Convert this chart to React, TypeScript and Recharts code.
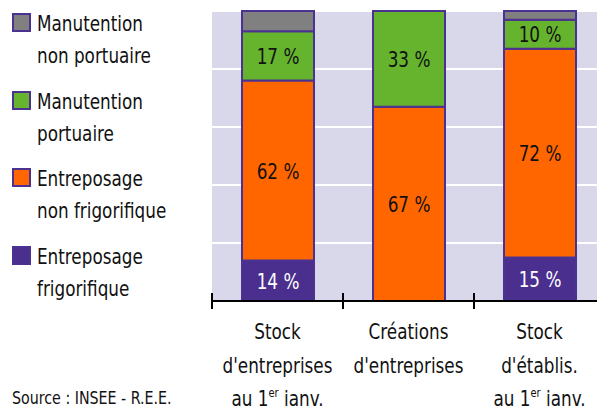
import React from "react";
import { BarChart, Bar, XAxis, YAxis, CartesianGrid, LabelList } from "recharts";

const categories = ["Stock d'entreprises au 1er janv.", "Créations d'entreprises", "Stock d'établis. au 1er janv."];
const tickLines: { pre: string; sup?: string; post?: string }[][] = [
  [{ pre: "Stock" }, { pre: "d'entreprises" }, { pre: "au 1", sup: "er", post: " janv." }],
  [{ pre: "Créations" }, { pre: "d'entreprises" }],
  [{ pre: "Stock" }, { pre: "d'établis." }, { pre: "au 1", sup: "er", post: " janv." }],
];
const entreposageFrigo = [14, 0, 15];
const entreposageNonFrigo = [62, 67, 72];
const manutentionPortuaire = [17, 33, 10];
const manutentionNonPortuaire = [7, 0, 3];

const seriesNames = [
  { key: "mnp", lines: ["Manutention", "non portuaire"], color: "#808080" },
  { key: "mp", lines: ["Manutention", "portuaire"], color: "#66b32e" },
  { key: "enf", lines: ["Entreposage", "non frigorifique"], color: "#ff6600" },
  { key: "ef", lines: ["Entreposage", "frigorifique"], color: "#4a2f8f" },
];
const yTicks = [0, 20, 40, 60, 80, 100];
const sourceText = "Source : INSEE - R.E.E.";

const data = categories.map((c, i) => ({
  name: c,
  ef: entreposageFrigo[i],
  enf: entreposageNonFrigo[i],
  mp: manutentionPortuaire[i],
  mnp: manutentionNonPortuaire[i],
}));

const FONT = "'DejaVu Sans Condensed', 'DejaVu Sans', sans-serif";
const TS: React.CSSProperties = { fontStretch: "condensed" };
const SX = 0.85;
const STROKE = "#4b3291";

const NText = (p: { x: number; y: number; anchor?: string; size?: number; fill?: string; sx?: number; children?: any }) => (
  <text
    transform={`translate(${p.x},${p.y}) scale(${p.sx ?? SX},1)`}
    x={0}
    y={0}
    textAnchor={(p.anchor as any) || "start"}
    fontFamily={FONT}
    style={TS}
    fontSize={p.size ?? 22}
    fill={p.fill ?? "#111"}
  >
    {p.children}
  </text>
);

const makeLabel = (color: string) => (props: any) => {
  const { x, y, width, height, value } = props;
  if (!value) return null;
  return (
    <NText x={x + width / 2} y={y + height / 2 + 8} anchor="middle" fill={color}>
      {`${value} %`}
    </NText>
  );
};

const Tick = (props: any) => {
  const { x, y, payload, index } = props;
  const half = payload && payload.offset ? payload.offset : 65.5;
  const lines = tickLines[index ?? payload.index] || [];
  const baselines = [38, 71.5, 104.5];
  return (
    <g>
      <line x1={x - half} x2={x - half} y1={y - 8} y2={y + 8} stroke="#000" strokeWidth={2} />
      {lines.map((l, i) => (
        <NText key={i} x={x} y={y + baselines[i]} anchor="middle">
          <tspan>{l.pre}</tspan>
          {l.sup ? <tspan fontSize={13} dy={-9}>{l.sup}</tspan> : null}
          {l.post ? <tspan dy={l.sup ? 9 : 0}>{l.post}</tspan> : null}
        </NText>
      ))}
    </g>
  );
};

export default function App() {
  const legendBase = [31, 109, 186, 264];
  return (
    <div style={{ position: "absolute", left: 0, top: 0, width: 597, height: 406, overflow: "hidden", background: "#fff" }}>
      <BarChart width={605} height={406} data={data} margin={{ top: 11, right: 0, left: 212, bottom: 5 }} barSize={72}>
        <CartesianGrid vertical={false} horizontal={true} stroke="#ffffff" strokeWidth={2} fill="#d9d7ea" fillOpacity={1} />
        <YAxis hide domain={[0, 100]} ticks={yTicks} />
        <XAxis
          dataKey="name"
          height={100}
          tickSize={0}
          tickMargin={0}
          tickLine={false}
          axisLine={{ stroke: "#000", strokeWidth: 2 }}
          tick={<Tick />}
          interval={0}
        />
        <Bar dataKey="ef" stackId="a" fill="#4a2f8f" stroke={STROKE} strokeWidth={2} isAnimationActive={false}>
          <LabelList dataKey="ef" content={makeLabel("#ffffff")} />
        </Bar>
        <Bar dataKey="enf" stackId="a" fill="#ff6600" stroke={STROKE} strokeWidth={2} isAnimationActive={false}>
          <LabelList dataKey="enf" content={makeLabel("#111")} />
        </Bar>
        <Bar dataKey="mp" stackId="a" fill="#66b32e" stroke={STROKE} strokeWidth={2} isAnimationActive={false}>
          <LabelList dataKey="mp" content={makeLabel("#111")} />
        </Bar>
        <Bar dataKey="mnp" stackId="a" fill="#808080" stroke={STROKE} strokeWidth={2} isAnimationActive={false} />
      </BarChart>
      <svg width={200} height={406} style={{ position: "absolute", left: 0, top: 0 }}>
        {seriesNames.map((s, i) => (
          <g key={s.key}>
            <rect x={13} y={legendBase[i] - 17} width={17} height={17} fill={s.color} stroke={STROKE} strokeWidth={2} />
            {s.lines.map((t, j) => (
              <NText key={j} x={37} y={legendBase[i] + j * 31.5}>
                {t}
              </NText>
            ))}
          </g>
        ))}
        <NText x={12} y={404} size={18} sx={0.88}>
          {sourceText}
        </NText>
      </svg>
    </div>
  );
}
